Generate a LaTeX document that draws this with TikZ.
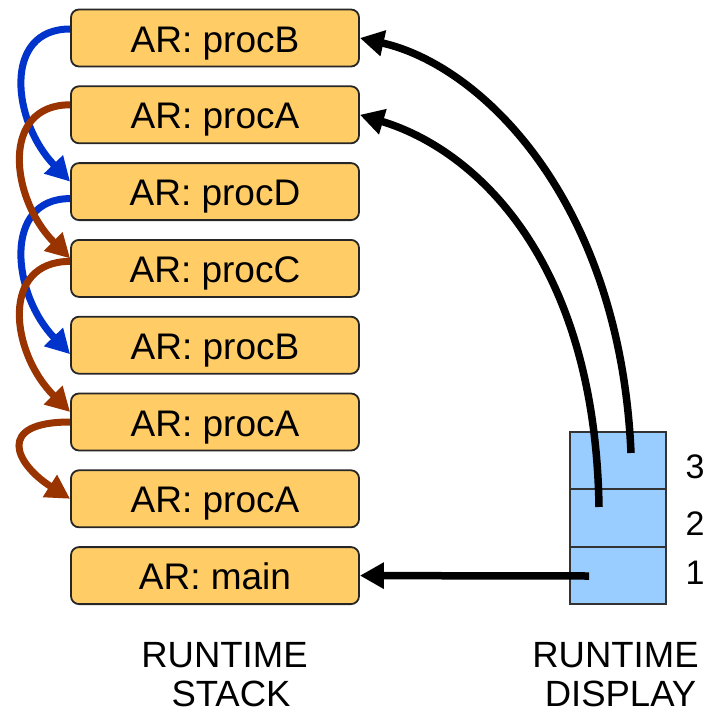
\documentclass[tikz,border=0pt]{standalone}
\usepackage{fontspec}
\setmainfont{Liberation Sans}
\usetikzlibrary{arrows.meta}
\definecolor{boxfill}{HTML}{FFCC66}
\definecolor{cellfill}{HTML}{99CCFF}
\definecolor{linkblue}{HTML}{0033CC}
\definecolor{linkbrown}{HTML}{993300}
\begin{document}
\begin{tikzpicture}[x=1pt,y=-1pt,
  ar/.style={draw=black!85, line width=1.8pt, fill=boxfill, rounded corners=8pt,
    minimum width=288pt, minimum height=57pt, inner sep=0pt,
    text height=28pt, text depth=0pt, font=\fontsize{37}{44}\selectfont},
  cell/.style={draw=black!80, line width=1.6pt, fill=cellfill,
    minimum width=96pt, minimum height=57.5pt, inner sep=0pt},
  link/.style={line width=7.5pt, -{Triangle[length=24pt,width=25pt]}},
  bluelink/.style={link, line width=7pt, draw=linkblue},
  brownlink/.style={link, line width=7pt, draw=linkbrown},
  blacklink/.style={link, draw=black},
  lbl/.style={anchor=base, inner sep=0pt, font=\fontsize{36.5}{43}\selectfont},
  num/.style={inner sep=0pt, font=\fontsize{34}{40}\selectfont}]
\useasboundingbox (0,0) rectangle (711,715);

% runtime stack
\node[ar] (s1) at (215,38)    {AR: procB};
\node[ar] (s2) at (215,114.8) {AR: procA};
\node[ar] (s3) at (215,191.6) {AR: procD};
\node[ar] (s4) at (215,268.4) {AR: procC};
\node[ar] (s5) at (215,345.2) {AR: procB};
\node[ar] (s6) at (215,422)   {AR: procA};
\node[ar] (s7) at (215,498.8) {AR: procA};
\node[ar] (s8) at (215,575.6) {AR: main};

% static/dynamic links
\draw[bluelink] ([yshift=9pt]s1.west) .. controls +(-68,0) and +(-58,-60) .. ([yshift=10pt]s3.west);
\draw[bluelink] ([yshift=-7pt]s3.west) .. controls +(-68,0) and +(-58,-60) .. ([yshift=-9pt]s5.west);
\draw[brownlink] ([yshift=10pt]s2.west) .. controls +(-70,0) and +(-60,-60) .. ([yshift=10pt]s4.west);
\draw[brownlink] ([yshift=7pt]s4.west) .. controls +(-70,0) and +(-60,-60) .. ([yshift=10pt]s6.west);
\draw[brownlink] (s6.west) .. controls +(-75,0) and +(-55,-35) .. (s7.west);

% runtime display
\node[cell] (c3) at (618,460.5) {};
\node[cell] (c2) at (618,518)   {};
\node[cell] (c1) at (618,575.5) {};
\node[num] (n3) at (695,467)   {3};
\node[num] (n2) at (695,523.5) {2};
\node[num] (n1) at (695,572.5) {1};

\coordinate (d3) at (631,453);
\coordinate (d2) at (599,507);
\coordinate (d1) at (589,576);

\draw[blacklink] (d1) -- (s8.east);
\draw[blacklink] (d2) .. controls +(-4,-247) and +(116,35) .. (s2.east);
\draw[blacklink] (d3) .. controls +(-11,-253) and +(121,27) .. (s1.east);

% captions
\node[lbl] (t1) at (224.5,667) {RUNTIME};
\node[lbl] (t2) at (231,706)   {STACK};
\node[lbl] (t3) at (615.5,667) {RUNTIME};
\node[lbl] (t4) at (620.5,706) {DISPLAY};
\end{tikzpicture}
\end{document}
